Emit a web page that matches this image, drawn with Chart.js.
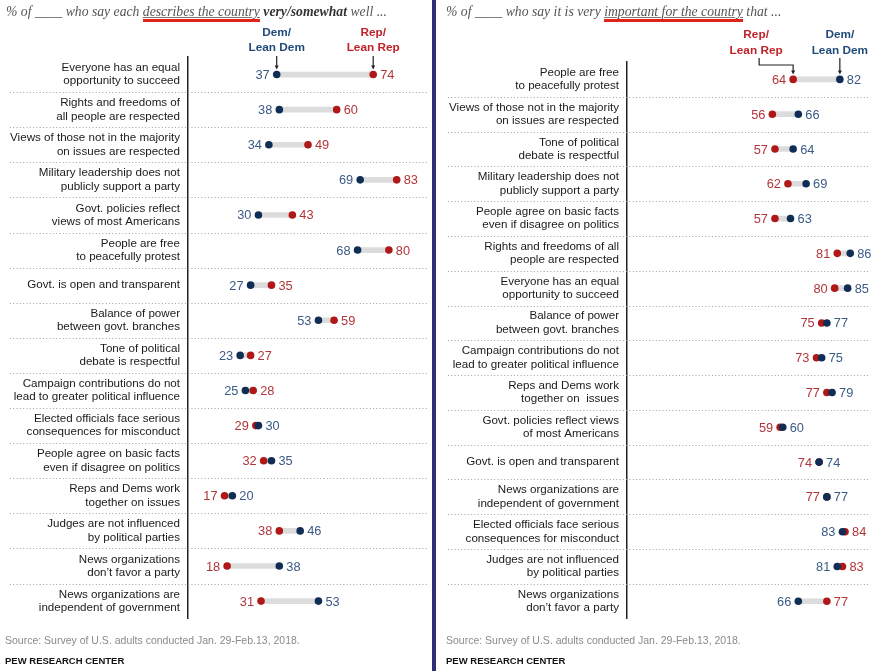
<!DOCTYPE html>
<html>
<head>
<meta charset="utf-8">
<script src="https://cdn.jsdelivr.net/npm/chart.js@4.4.1/dist/chart.umd.min.js"></script>
<style>
  body { margin: 0; background: #fff; }
  #wrap { position: relative; width: 878px; height: 671px; overflow: hidden; font-family: "Liberation Sans", Arial, sans-serif; }
  .panel { position: absolute; top: 0; height: 640px; }
  #leftBox { left: 0; width: 432px; }
  #rightBox { left: 436px; width: 442px; }
  .divider { position: absolute; left: 432px; top: 0; width: 4px; height: 671px; background: #2f2f78; }
  .title { position: absolute; top: 4px; font-family: "Liberation Serif", serif; font-style: italic; font-size: 13.7px; color: #555; white-space: nowrap; }
  .title .hl { text-decoration: underline; text-decoration-color: #777; border-bottom: 3px solid #e2231a; }
  .title b { color: #333; }
  .source { position: absolute; top: 634px; font-size: 10.5px; color: #8a8a8a; white-space: nowrap; }
  .pew { position: absolute; top: 655px; font-size: 9.5px; font-weight: bold; color: #111; white-space: nowrap; }
</style>
</head>
<body>
<div id="wrap">
  <div class="panel" id="leftBox"><canvas id="leftChart"></canvas></div>
  <div class="panel" id="rightBox"><canvas id="rightChart"></canvas></div>
  <div class="divider"></div>
  <div class="title" style="left:6px;">% of ____ who say each <span class="hl">describes the country</span> <b>very/somewhat</b> well ...</div>
  <div class="title" style="left:446px;">% of ____ who say it is very <span class="hl">important for the country</span> that ...</div>
  <div class="source" style="left:5px;">Source: Survey of U.S. adults conducted Jan. 29-Feb.13, 2018.</div>
  <div class="pew" style="left:5px;">PEW RESEARCH CENTER</div>
  <div class="source" style="left:446px;">Source: Survey of U.S. adults conducted Jan. 29-Feb.13, 2018.</div>
  <div class="pew" style="left:446px;">PEW RESEARCH CENTER</div>
</div>
<script>
// left panel: describes the country very/somewhat well
const leftLabels = [
  ['Everyone has an equal', 'opportunity to succeed'],
  ['Rights and freedoms of', 'all people are respected'],
  ['Views of those not in the majority', 'on issues are respected'],
  ['Military leadership does not', 'publicly support a party'],
  ['Govt. policies reflect', 'views of most Americans'],
  ['People are free', 'to peacefully protest'],
  'Govt. is open and transparent',
  ['Balance of power', 'between govt. branches'],
  ['Tone of political', 'debate is respectful'],
  ['Campaign contributions do not', 'lead to greater political influence'],
  ['Elected officials face serious', 'consequences for misconduct'],
  ['People agree on basic facts', 'even if disagree on politics'],
  ['Reps and Dems work', 'together on issues'],
  ['Judges are not influenced', 'by political parties'],
  ['News organizations', 'don\u2019t favor a party'],
  ['News organizations are', 'independent of government']
];
const leftDem = [37, 38, 34, 69, 30, 68, 27, 53, 23, 25, 30, 35, 20, 46, 38, 53];
const leftRep = [74, 60, 49, 83, 43, 80, 35, 59, 27, 28, 29, 32, 17, 38, 18, 31];

// right panel: very important for the country
const rightLabels = [
  ['People are free', 'to peacefully protest'],
  ['Views of those not in the majority', 'on issues are respected'],
  ['Tone of political', 'debate is respectful'],
  ['Military leadership does not', 'publicly support a party'],
  ['People agree on basic facts', 'even if disagree on politics'],
  ['Rights and freedoms of all', 'people are respected'],
  ['Everyone has an equal', 'opportunity to succeed'],
  ['Balance of power', 'between govt. branches'],
  ['Campaign contributions do not', 'lead to greater political influence'],
  ['Reps and Dems work', 'together on  issues'],
  ['Govt. policies reflect views', 'of most Americans'],
  'Govt. is open and transparent',
  ['News organizations are', 'independent of government'],
  ['Elected officials face serious', 'consequences for misconduct'],
  ['Judges are not influenced', 'by political parties'],
  ['News organizations', 'don\u2019t favor a party']
];
const rightRep = [64, 56, 57, 62, 57, 81, 80, 75, 73, 77, 59, 74, 77, 84, 83, 77];
const rightDem = [82, 66, 64, 69, 63, 86, 85, 77, 75, 79, 60, 74, 77, 83, 81, 66];

const DEM = { name: ['Dem/', 'Lean Dem'], dot: '#102e55', text: '#3b5a84', head: '#1f4a7a', order: 0 };
const REP = { name: ['Rep/', 'Lean Rep'], dot: '#b01818', text: '#b2353a', head: '#c0222a', order: 1 };

const FONT = '"Liberation Sans", Arial, sans-serif';

function dumbbell(canvasId, labels, series, cfg) {
  const [a, b] = series; // a is the series whose label goes left on ties
  const plugin = {
    id: 'dumbbellDecor',
    beforeDatasetsDraw(chart) {
      const c = chart.ctx, ys = chart.scales.y;
      c.save();
      c.strokeStyle = '#a0a0a0';
      c.lineWidth = 1;
      c.setLineDash([1, 2.3]);
      for (let i = 0; i < labels.length - 1; i++) {
        const y = Math.round((ys.getPixelForValue(i) + ys.getPixelForValue(i + 1)) / 2) + 0.5;
        c.beginPath();
        c.moveTo(cfg.sepFrom, y);
        c.lineTo(cfg.sepTo, y);
        c.stroke();
      }
      c.restore();
    },
    afterDatasetsDraw(chart) {
      const c = chart.ctx, xs = chart.scales.x, ys = chart.scales.y;
      c.save();
      c.font = '12.8px ' + FONT;
      c.textBaseline = 'middle';
      labels.forEach((_, i) => {
        const va = a.values[i], vb = b.values[i];
        const lo = va <= vb ? a : b;
        const hi = lo === a ? b : a;
        const y = ys.getPixelForValue(i) + 1;
        c.fillStyle = lo.style.text;
        c.textAlign = 'right';
        c.fillText(String(lo.values[i]), xs.getPixelForValue(lo.values[i]) - 7, y);
        c.fillStyle = hi.style.text;
        c.textAlign = 'left';
        c.fillText(String(hi.values[i]), xs.getPixelForValue(hi.values[i]) + 7, y);
      });
      // column headers with pointers to the first row
      c.font = 'bold 11.8px ' + FONT;
      c.textAlign = 'center';
      const y0 = ys.getPixelForValue(0);
      series.forEach(s => {
        const dx = xs.getPixelForValue(s.values[0]);
        const hx = dx + (s.headOffset || 0);
        c.fillStyle = s.style.head;
        c.fillText(s.style.name[0], hx, cfg.headY[0]);
        c.fillText(s.style.name[1], hx, cfg.headY[1]);
        c.strokeStyle = '#222';
        c.fillStyle = '#222';
        c.lineWidth = 1.2;
        c.setLineDash([]);
        c.beginPath();
        if (s.headOffset) {
          c.moveTo(hx + 3, cfg.arrowTop);
          c.lineTo(hx + 3, cfg.arrowTop + 7);
          c.lineTo(dx, cfg.arrowTop + 7);
        } else {
          c.moveTo(dx, cfg.arrowTop);
        }
        c.lineTo(dx, y0 - 8);
        c.stroke();
        c.beginPath();
        c.moveTo(dx - 2, y0 - 9);
        c.lineTo(dx + 2, y0 - 9);
        c.lineTo(dx, y0 - 5);
        c.closePath();
        c.fill();
      });
      c.restore();
    }
  };

  return new Chart(document.getElementById(canvasId), {
    type: 'bar',
    data: {
      labels: labels,
      datasets: [
        ...series.map(s => ({
          type: 'line',
          indexAxis: 'y',
          data: s.values,
          showLine: false,
          pointRadius: 3.8,
          pointBorderWidth: 0,
          pointBackgroundColor: s.style.dot,
          order: s.style.order
        })),
        {
          type: 'bar',
          indexAxis: 'y',
          data: labels.map((_, i) => [Math.min(a.values[i], b.values[i]), Math.max(a.values[i], b.values[i])]),
          backgroundColor: '#dcdcdc',
          barThickness: 5,
          borderSkipped: false,
          order: 2
        }
      ]
    },
    options: {
      indexAxis: 'y',
      responsive: true,
      maintainAspectRatio: false,
      animation: false,
      layout: { padding: cfg.padding },
      plugins: { legend: { display: false }, tooltip: { enabled: false } },
      scales: {
        x: { type: 'linear', min: cfg.min, max: cfg.max, display: false },
        y: {
          type: 'category',
          offset: true,
          grid: { display: false, drawTicks: false },
          border: { display: true, color: '#222', width: 1.5 },
          ticks: {
            color: '#1a1a1a',
            padding: 8,
            autoSkip: false,
            font: { family: FONT, size: 11.6, lineHeight: 1.15 }
          },
          afterFit(scale) { scale.width = cfg.axisWidth; }
        }
      }
    },
    plugins: [plugin]
  });
}

dumbbell('leftChart', leftLabels, [
  { values: leftDem, style: DEM },
  { values: leftRep, style: REP }
], {
  min: 3, max: 95, axisWidth: 188,
  padding: { top: 57, bottom: 8, left: 0, right: 4 },
  sepFrom: 10, sepTo: 428,
  headY: [33, 48], arrowTop: 56
});

dumbbell('rightChart', rightLabels, [
  { values: rightRep, style: REP, headOffset: -37 },
  { values: rightDem, style: DEM }
], {
  min: 0, max: 94, axisWidth: 191,
  padding: { top: 62, bottom: 9, left: 0, right: 7 },
  sepFrom: 12, sepTo: 434,
  headY: [35, 50.5], arrowTop: 58
});
</script>
</body>
</html>
